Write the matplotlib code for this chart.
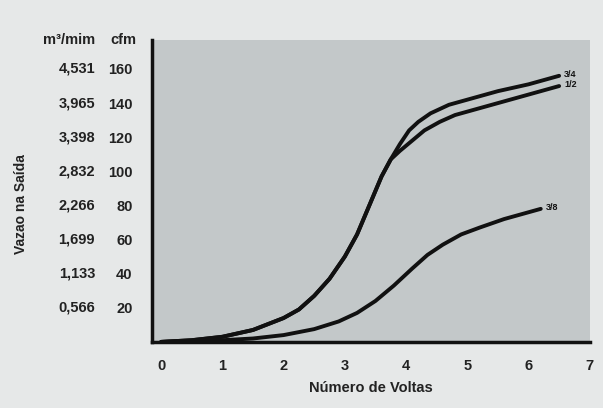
#Vazao x numero de voltas (valvula) - recriacao do grafico
import numpy as np
import matplotlib.pyplot as plt

plt.rcParams['font.family'] = ['Liberation Sans', 'DejaVu Sans']

#Eixo y: cfm e m3/min
cfm_ticks = [20, 40, 60, 80, 100, 120, 140, 160]
m3_labels = ['0,566', '1,133', '1,699', '2,266', '2,832', '3,398', '3,965', '4,531']
voltas = [0, 1, 2, 3, 4, 5, 6, 7]

#Trecho comum das curvas 3/4 e 1/2
x_comum = [0, 0.5, 1, 1.5, 2, 2.25, 2.5, 2.75, 3.0, 3.2, 3.4, 3.6, 3.75]
y_comum = [0, 1, 3, 7, 14, 19, 27, 37, 50, 63, 80, 97, 107]

#Curva 3/4
x_34 = x_comum + [3.9, 4.05, 4.2, 4.4, 4.7, 5.0, 5.5, 6.0, 6.5]
y_34 = y_comum + [116, 124, 129, 134, 139, 142, 147, 151, 156]

#Curva 1/2
x_12 = x_comum + [3.9, 4.1, 4.3, 4.55, 4.8, 5.2, 5.7, 6.1, 6.5]
y_12 = y_comum + [112, 118, 124, 129, 133, 137, 142, 146, 150]

#Curva 3/8
x_38 = [0, 1, 1.5, 2, 2.5, 2.9, 3.2, 3.5, 3.8, 4.1, 4.35, 4.6, 4.9, 5.2, 5.6, 5.9, 6.2]
y_38 = [0, 1, 2, 4, 7.5, 12, 17, 24, 33, 43, 51, 57, 63, 67, 72, 75, 78]

fig = plt.figure(figsize=(6.03, 4.08), dpi=100)
fig.patch.set_facecolor('#e6e8e8')
ax = fig.add_axes([0.252, 0.162, 0.726, 0.74])
ax.set_facecolor('#c3c8c9')

ax.set_xlim(-0.15, 7)
ax.set_ylim(0, 177)

cor = '#111111'
for xs, ys in [(x_34, y_34), (x_12, y_12), (x_38, y_38)]:
    ax.plot(xs, ys, color=cor, linewidth=2.8, solid_capstyle='round', solid_joinstyle='round')

#Rotulos das curvas
ax.text(x_34[-1] + 0.08, y_34[-1] + 1, '3/4', fontsize=6.5, fontweight='bold', color=cor, va='center')
ax.text(x_12[-1] + 0.08, y_12[-1] + 1, '1/2', fontsize=6.5, fontweight='bold', color=cor, va='center')
ax.text(x_38[-1] + 0.08, y_38[-1] + 1, '3/8', fontsize=6.5, fontweight='bold', color=cor, va='center')

#Eixos
for s in ['top', 'right']:
    ax.spines[s].set_visible(False)
for s in ['left', 'bottom']:
    ax.spines[s].set_linewidth(2.5)
    ax.spines[s].set_color(cor)

ax.set_yticks(cfm_ticks)
ax.set_yticklabels([str(v) for v in cfm_ticks], fontsize=10.5, fontweight='bold', color='#222222')
ax.set_xticks(voltas)
ax.set_xticklabels([str(v) for v in voltas], fontsize=10.5, fontweight='bold', color='#222222')
ax.tick_params(axis='y', length=0, pad=14)
ax.tick_params(axis='x', length=0, pad=12)

#Coluna m3/min
for v, lab in zip(cfm_ticks, m3_labels):
    ax.text(-0.13, v, lab, transform=ax.get_yaxis_transform(), ha='right', va='center',
            fontsize=10.5, fontweight='bold', color='#222222')

ax.text(-0.035, 1.0, 'cfm', transform=ax.transAxes, ha='right', va='center',
        fontsize=10.5, fontweight='bold', color='#222222')
ax.text(-0.13, 1.0, 'm³/mim', transform=ax.transAxes, ha='right', va='center',
        fontsize=10.5, fontweight='bold', color='#222222')

fig.text(0.035, 0.5, 'Vazao na Saída', rotation=90, ha='center', va='center',
         fontsize=10, fontweight='bold', color='#222222')
ax.set_xlabel('Número de Voltas', fontsize=10.5, fontweight='bold', color='#222222', labelpad=6)

fig.savefig('out.png', dpi=100, facecolor=fig.get_facecolor())
